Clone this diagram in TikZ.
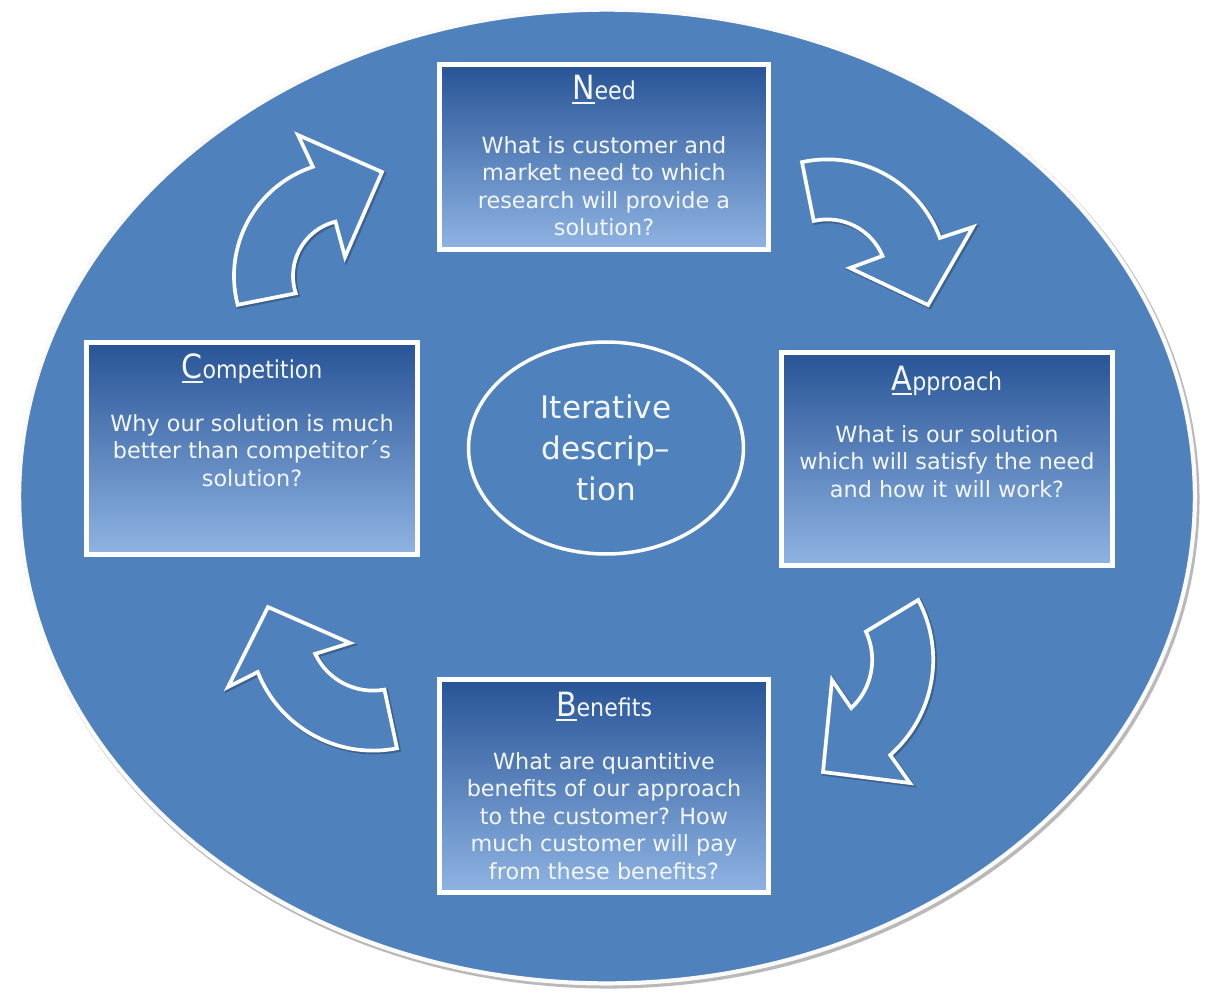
\documentclass[tikz,border=0pt]{standalone}
\usepackage{fontspec}
\setmainfont{DejaVu Sans}
\newfontfamily\headfont{DejaVu Sans Condensed}
\usetikzlibrary{shadows,calc,shapes.geometric}
\definecolor{bgblue}{RGB}{79,129,189}
\definecolor{boxtop}{RGB}{40,84,150}
\definecolor{boxbot}{RGB}{143,180,227}
\definecolor{txtw}{RGB}{244,247,252}
\newcommand{\bigfirst}[1]{{\fontsize{19}{19}\selectfont\setbox0\hbox{#1}\rlap{\rule[-2.6pt]{\wd0}{1.1pt}}\box0}}
% curved block arrows: centre, outer/inner radius, angles (y axis points down)
\newcommand{\arrowTL}{($(349,276)+(165.5:115)$) arc[start angle=165.5, end angle=251.7, radius=115] -- (298,135) -- (382,172) -- (345,257) -- ($(349,276)+(256:56)$) arc[start angle=256, end angle=162, radius=56] -- cycle}
\newcommand{\arrowTR}{($(827.3,279.4)+(-102.2:120)$) arc[start angle=-102.2, end angle=-20.2, radius=120] -- (973,227) -- (928,305) -- (850,268) -- ($(827.3,279.4)+(-23:60)$) arc[start angle=-23, end angle=-103.1, radius=60] -- cycle}
\newcommand{\arrowBR}{($(806.2,659.8)+(-28.1:127)$) arc[start angle=-28.1, end angle=48.6, radius=127] -- (910,783) -- (823,772) -- (832,680) -- ($(806.2,659.8)+(47:66)$) arc[start angle=47, end angle=-25.3, radius=66] -- cycle}
\newcommand{\arrowBL}{($(373.1,626.6)+(78.9:124)$) arc[start angle=78.9, end angle=158.5, radius=124] -- (228,687) -- (268,607) -- (350,643) -- ($(373.1,626.6)+(154.8:64)$) arc[start angle=154.8, end angle=79.8, radius=64] -- cycle}
\tikzset{
  stagebox/.style={rectangle, draw=white, line width=2.6pt, top color=boxtop, bottom color=boxbot, inner sep=0pt,
    drop shadow={shadow xshift=1.5pt, shadow yshift=-1.5pt, opacity=0.35}},
  stagetitle/.style={anchor=base, text=txtw, inner sep=0pt, font=\headfont\fontsize{14}{16}\selectfont},
  stagebody/.style={anchor=north, text=txtw, inner sep=0pt, align=center, font=\fontsize{12.7}{15.6}\selectfont},
  cyclearrow/.style={draw=white, line width=2.1pt, line join=miter, fill=bgblue},
  arrowshadow/.style={draw=black!70!bgblue, line width=2.6pt, opacity=0.35},
  centreoval/.style={ellipse, draw=white, line width=2pt, minimum width=5.5cm, minimum height=4.24cm, inner sep=0pt,
    text=txtw, align=center, font=\fontsize{17.7}{23.3}\selectfont},
}
\begin{document}
\begin{tikzpicture}[x=0.02cm,y=-0.02cm]
\useasboundingbox (0,0) rectangle (1216,994);
% big background ellipse
\draw[gray!55, line width=3pt] (609,499) ellipse [x radius=11.76cm, y radius=9.74cm];
\draw[fill=bgblue, draw=white!96!gray, line width=2.4pt] (607,496.5) ellipse [x radius=11.76cm, y radius=9.74cm];

% stage boxes
\node[stagebox, minimum width=6.58cm, minimum height=3.70cm] (need) at (604,157) {};
\node[stagebox, minimum width=6.62cm, minimum height=4.26cm] (appr) at (947,459) {};
\node[stagebox, minimum width=6.58cm, minimum height=4.26cm] (bene) at (604,786) {};
\node[stagebox, minimum width=6.62cm, minimum height=4.24cm] (comp) at (252,448.5) {};

\node[stagetitle] (needT) at ([yshift=-0.75cm]need.north) {\bigfirst{N}eed};
\node[stagebody] (needB) at ([yshift=-1.48cm]need.north) {What is customer and\\market need to which\\research will provide a\\solution?};

\node[stagetitle] (apprT) at ([yshift=-0.80cm]appr.north) {\bigfirst{A}pproach};
\node[stagebody] (apprB) at ([yshift=-1.50cm]appr.north) {What is our solution\\which will satisfy the need\\and how it will work?};

\node[stagetitle] (beneT) at ([yshift=-0.78cm]bene.north) {\bigfirst{B}enefits};
\node[stagebody] (beneB) at ([yshift=-1.50cm]bene.north) {What are quantitive\\benefits of our approach\\to the customer? How\\much customer will pay\\from these benefits?};

\node[stagetitle] (compT) at ([yshift=-0.76cm]comp.north) {\bigfirst{C}ompetition};
\node[stagebody] (compB) at ([yshift=-1.48cm]comp.north) {Why our solution is much\\better than competitor´s\\solution?};

% centre
\node[centreoval] (iter) at (606,448) {Iterative\\descrip–\\tion};

% curved arrows
\draw[arrowshadow, shift={(1.5,1.5)}] \arrowTL;
\draw[cyclearrow] \arrowTL;
\draw[arrowshadow, shift={(1.5,1.5)}] \arrowTR;
\draw[cyclearrow] \arrowTR;
\draw[arrowshadow, shift={(1.5,1.5)}] \arrowBR;
\draw[cyclearrow] \arrowBR;
\draw[arrowshadow, shift={(1.5,1.5)}] \arrowBL;
\draw[cyclearrow] \arrowBL;
\end{tikzpicture}
\end{document}
